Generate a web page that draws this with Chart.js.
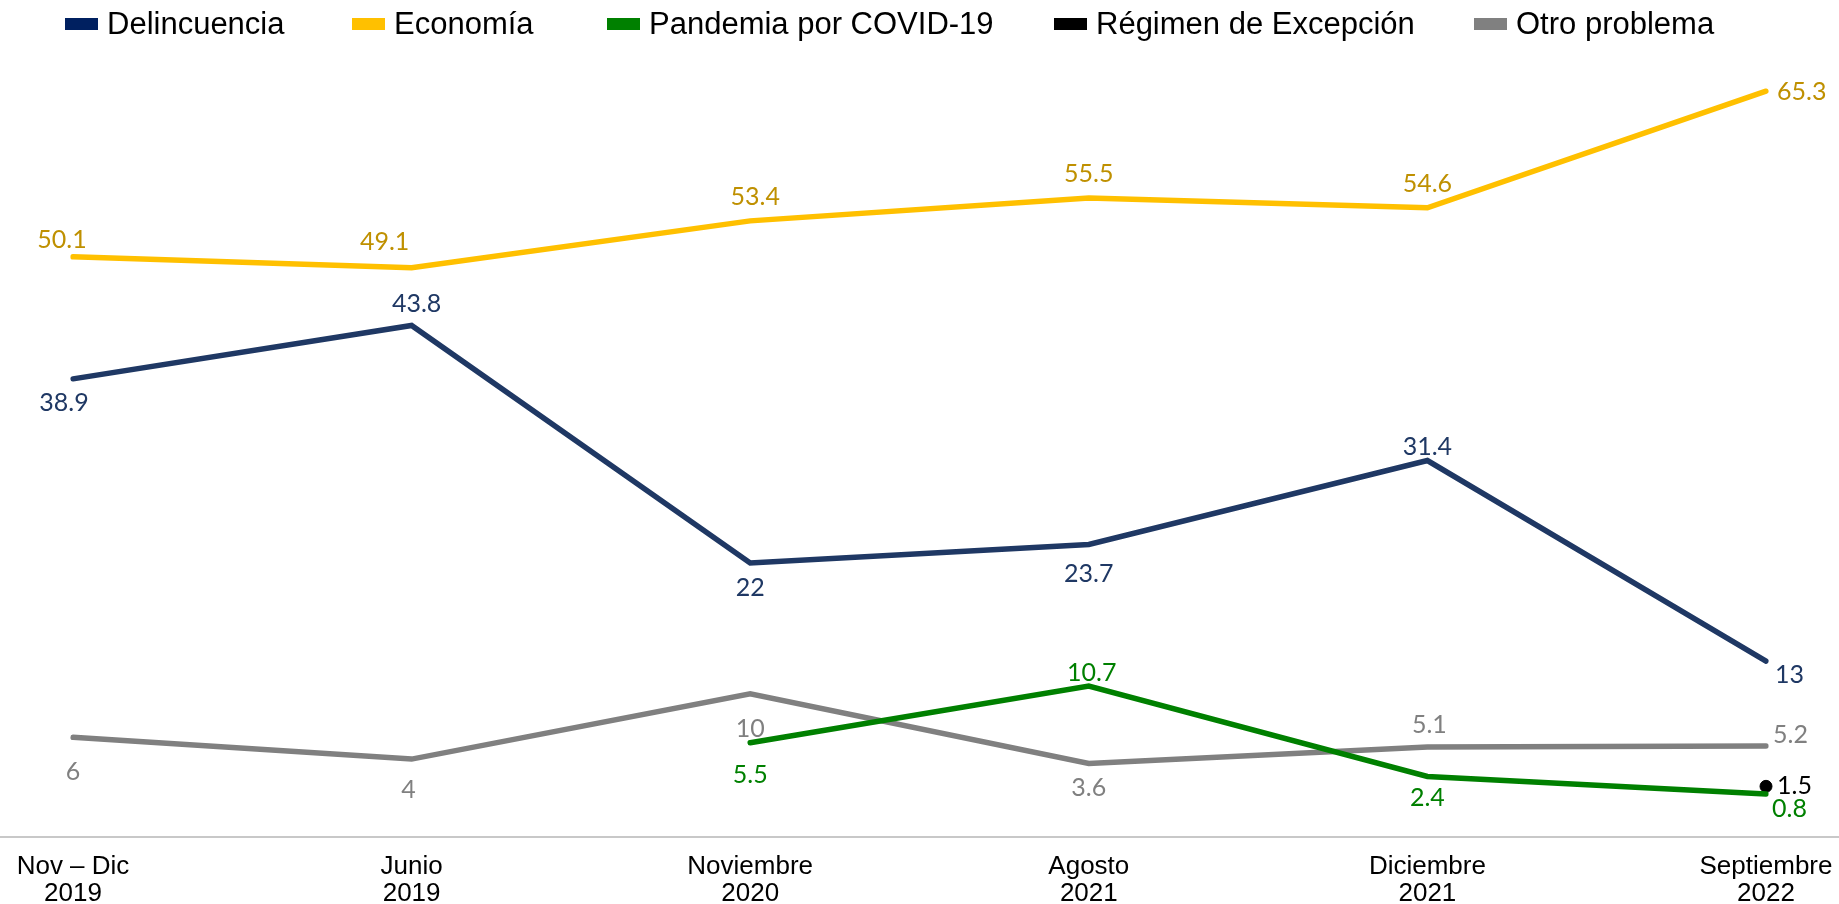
<!DOCTYPE html>
<html>
<head>
<meta charset="utf-8">
<script src="https://cdn.jsdelivr.net/npm/chart.js@4"></script>
<style>
  html, body { margin: 0; padding: 0; background: #fff; }
  #wrap { width: 1839px; height: 904px; }
</style>
</head>
<body>
<div id="wrap"><canvas id="chart" width="1839" height="904"></canvas></div>
<script>
// data
const categories = [
  ['Nov – Dic', '2019'],
  ['Junio', '2019'],
  ['Noviembre', '2020'],
  ['Agosto', '2021'],
  ['Diciembre', '2021'],
  ['Septiembre', '2022']
];
const delincuencia = [38.9, 43.8, 22, 23.7, 31.4, 13];
const economia = [50.1, 49.1, 53.4, 55.5, 54.6, 65.3];
const pandemia = [null, null, 5.5, 10.7, 2.4, 0.8];
const regimen = [null, null, null, null, null, 1.5];
const otro = [6, 4, 10, 3.6, 5.1, 5.2];

// label placement (dx, dy from the point, align)
const labelPlace = {
  Delincuencia: [[-9, 24, 'center'], [5, -22, 'center'], [0, 25, 'center'], [0, 29, 'center'], [0, -14, 'center'], [9, 14, 'left']],
  'Economía': [[-11, -17, 'center'], [-27, -26, 'center'], [5, -24, 'center'], [0, -24, 'center'], [0, -24, 'center'], [11, 1, 'left']],
  'Pandemia por COVID-19': [null, null, [0, 32, 'center'], [3, -13, 'center'], [0, 21, 'center'], [6, 15, 'left']],
  'Régimen de Excepción': [null, null, null, null, null, [11, 0, 'left']],
  'Otro problema': [[0, 35, 'center'], [-3, 31, 'center'], [0, 35, 'center'], [0, 24, 'center'], [2, -22, 'center'], [7, -11, 'left']]
};

const legendX = [65, 352, 607, 1054, 1474];

const valueLabels = {
  id: 'valueLabels',
  afterDatasetsDraw(chart) {
    const ctx = chart.ctx;
    ctx.save();
    ctx.font = '25px Lato, "DejaVu Sans", sans-serif';
    ctx.textBaseline = 'middle';
    chart.data.datasets.forEach((ds, i) => {
      const meta = chart.getDatasetMeta(i);
      const place = labelPlace[ds.label];
      meta.data.forEach((pt, j) => {
        const v = ds.data[j];
        if (v === null || !place[j]) return;
        const [dx, dy, align] = place[j];
        ctx.fillStyle = ds.labelColor;
        ctx.textAlign = align;
        ctx.fillText(String(v), pt.x + dx, pt.y + dy);
      });
    });
    ctx.restore();
  }
};

// legend + full width base line
const decor = {
  id: 'decor',
  afterDraw(chart) {
    const ctx = chart.ctx;
    ctx.save();
    ctx.strokeStyle = '#c8c8c8';
    ctx.lineWidth = 2;
    ctx.beginPath();
    ctx.moveTo(0, chart.chartArea.bottom);
    ctx.lineTo(chart.width, chart.chartArea.bottom);
    ctx.stroke();

    ctx.font = '31px "Liberation Sans", Arial, sans-serif';
    ctx.textBaseline = 'alphabetic';
    ctx.textAlign = 'left';
    chart.data.datasets.forEach((ds, i) => {
      const x = legendX[i];
      ctx.fillStyle = ds.legendColor;
      ctx.fillRect(x, 18, 33, 12);
      ctx.fillStyle = '#000';
      ctx.fillText(ds.label, x + 42, 34);
    });
    ctx.restore();
  }
};

new Chart(document.getElementById('chart').getContext('2d'), {
  type: 'line',
  data: {
    labels: categories,
    datasets: [
      { label: 'Delincuencia', data: delincuencia, borderColor: '#1f3864', legendColor: '#002060', labelColor: '#1f3864' },
      { label: 'Economía', data: economia, borderColor: '#ffc000', legendColor: '#ffc000', labelColor: '#bf9000' },
      { label: 'Pandemia por COVID-19', data: pandemia, borderColor: '#008000', legendColor: '#008000', labelColor: '#008000' },
      { label: 'Régimen de Excepción', data: regimen, borderColor: '#000', legendColor: '#000', labelColor: '#000',
        pointRadius: 6, pointBackgroundColor: '#000', showLine: false },
      { label: 'Otro problema', data: otro, borderColor: '#808080', legendColor: '#808080', labelColor: '#808080' }
    ]
  },
  options: {
    responsive: false,
    animation: false,
    layout: { padding: { top: 40, left: 73, right: 73, bottom: 0 } },
    elements: {
      line: { borderWidth: 5.5, borderCapStyle: 'round', borderJoinStyle: 'miter', tension: 0 },
      point: { radius: 0 }
    },
    plugins: {
      legend: { display: false },
      tooltip: { enabled: false }
    },
    scales: {
      x: {
        grid: { display: false, drawTicks: false },
        border: { display: false },
        ticks: {
          color: '#000',
          padding: 16,
          maxRotation: 0,
          autoSkip: false,
          font: { family: '"Liberation Sans", Arial, sans-serif', size: 26, lineHeight: 1.05 }
        },
        afterFit(scale) {
          scale.height = 67;
          scale.paddingLeft = 0;
          scale.paddingRight = 0;
        }
      },
      y: {
        display: false,
        min: -3.15,
        max: 70
      }
    }
  },
  plugins: [valueLabels, decor]
});
</script>
</body>
</html>
